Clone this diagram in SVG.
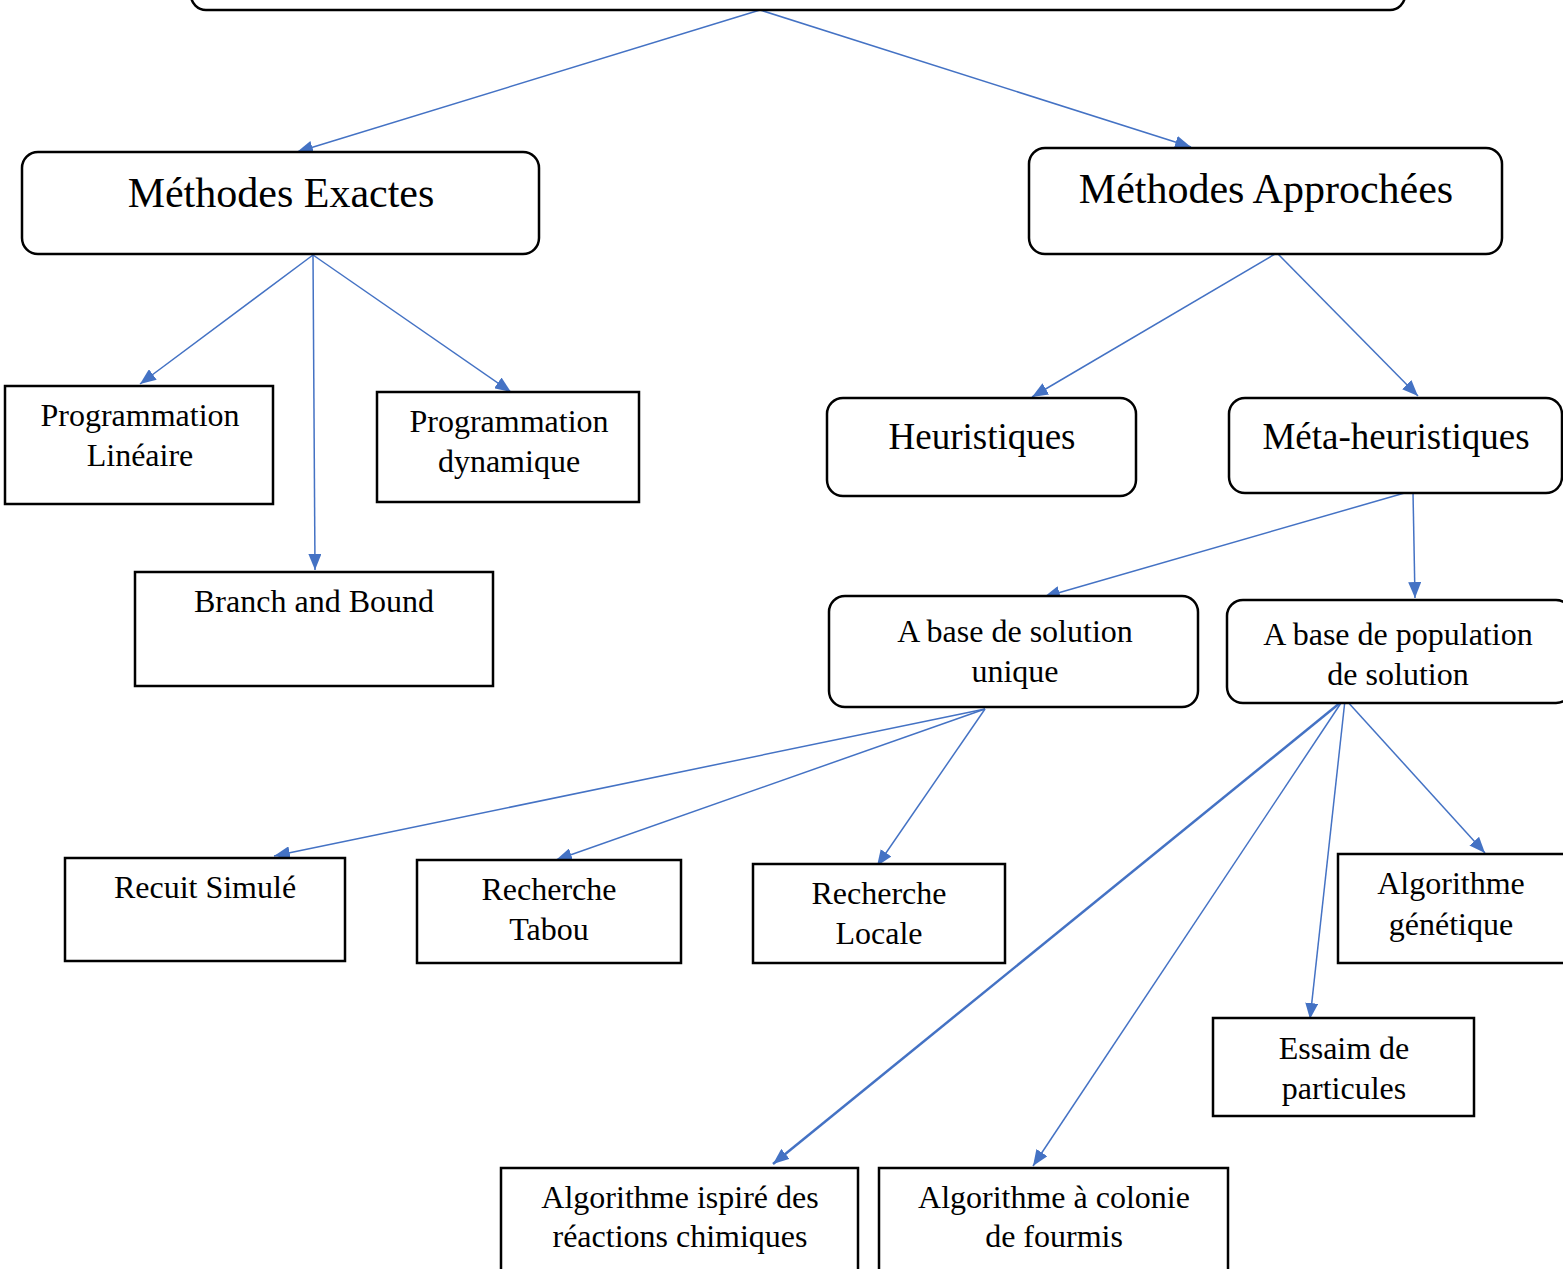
<svg xmlns="http://www.w3.org/2000/svg" width="1563" height="1269" viewBox="0 0 1563 1269">
<defs>
<style>
.box{fill:#fff;stroke:#000;stroke-width:2.5}
.t{font-family:"Liberation Serif","Times New Roman",serif;fill:#000;text-anchor:middle}
.s32{font-size:32px}
.s37{font-size:37px}
.s42{font-size:42px}
.c{stroke:#4472C4;stroke-width:1.5;fill:none;marker-end:url(#ah)}
</style>
<marker id="ah" viewBox="0 0 16 13" refX="16" refY="6.5" markerUnits="userSpaceOnUse" markerWidth="16" markerHeight="13" orient="auto">
<path d="M0,0 L16,6.5 L0,13 Z" fill="#4472C4"/>
</marker>
</defs>
<rect width="1563" height="1269" fill="#fff"/>
<g id="connectors">
<line class="c" x1="760" y1="10" x2="297" y2="152"/>
<line class="c" x1="760" y1="10" x2="1191" y2="147"/>
<line class="c" x1="313" y1="255" x2="140" y2="384"/>
<line class="c" x1="313" y1="255" x2="315" y2="570"/>
<line class="c" x1="313" y1="255" x2="511" y2="392"/>
<line class="c" x1="1275" y1="254" x2="1032" y2="397"/>
<line class="c" x1="1278" y1="254" x2="1418" y2="396"/>
<line class="c" x1="1408" y1="492" x2="1044" y2="597"/>
<line class="c" x1="1413" y1="492" x2="1415" y2="598"/>
<line class="c" x1="985" y1="709" x2="274" y2="856"/>
<line class="c" x1="985" y1="709" x2="556" y2="860"/>
<line class="c" x1="985" y1="709" x2="877" y2="866"/>
<line class="c" x1="1346" y1="698" x2="773" y2="1164" style="stroke-width:2.5"/>
<line class="c" x1="1343" y1="700" x2="1033" y2="1166"/>
<line class="c" x1="1345" y1="700" x2="1310" y2="1019"/>
<line class="c" x1="1346" y1="700" x2="1485" y2="853"/>
</g>
<g id="root"><rect class="box" x="191" y="-40" width="1214" height="50" rx="15"/></g>
<g id="exactes"><rect class="box" x="22" y="152" width="517" height="102" rx="16"/><text class="t s42" x="281" y="207">Méthodes Exactes</text></g>
<g id="approchees"><rect class="box" x="1029" y="148" width="473" height="106" rx="16"/><text class="t s42" x="1266" y="203">Méthodes Approchées</text></g>
<g id="prog-lineaire"><rect class="box" x="5" y="386" width="268" height="118"/><text class="t s32" x="140" y="426">Programmation</text><text class="t s32" x="140" y="466">Linéaire</text></g>
<g id="prog-dynamique"><rect class="box" x="377" y="392" width="262" height="110"/><text class="t s32" x="509" y="432">Programmation</text><text class="t s32" x="509" y="472">dynamique</text></g>
<g id="branch-bound"><rect class="box" x="135" y="572" width="358" height="114"/><text class="t s32" x="314" y="612">Branch and Bound</text></g>
<g id="heuristiques"><rect class="box" x="827" y="398" width="309" height="98" rx="16"/><text class="t s37" x="982" y="449">Heuristiques</text></g>
<g id="meta"><rect class="box" x="1229" y="398" width="333" height="95" rx="16"/><text class="t s37" x="1396" y="449">Méta-heuristiques</text></g>
<g id="solution-unique"><rect class="box" x="829" y="596" width="369" height="111" rx="16"/><text class="t s32" x="1015" y="642">A base de solution</text><text class="t s32" x="1015" y="682">unique</text></g>
<g id="population"><rect class="box" x="1227" y="600" width="345" height="103" rx="16"/><text class="t s32" x="1398" y="645">A base de population</text><text class="t s32" x="1398" y="685">de solution</text></g>
<g id="recuit"><rect class="box" x="65" y="858" width="280" height="103"/><text class="t s32" x="205" y="898">Recuit Simulé</text></g>
<g id="tabou"><rect class="box" x="417" y="860" width="264" height="103"/><text class="t s32" x="549" y="900">Recherche</text><text class="t s32" x="549" y="940">Tabou</text></g>
<g id="locale"><rect class="box" x="753" y="864" width="252" height="99"/><text class="t s32" x="879" y="904">Recherche</text><text class="t s32" x="879" y="944">Locale</text></g>
<g id="genetique"><rect class="box" x="1338" y="854" width="230" height="109"/><text class="t s32" x="1451" y="894">Algorithme</text><text class="t s32" x="1451" y="935">génétique</text></g>
<g id="essaim"><rect class="box" x="1213" y="1018" width="261" height="98"/><text class="t s32" x="1344" y="1059">Essaim de</text><text class="t s32" x="1344" y="1099">particules</text></g>
<g id="chimiques"><rect class="box" x="501" y="1168" width="357" height="120"/><text class="t s32" x="680" y="1208">Algorithme ispiré des</text><text class="t s32" x="680" y="1247">réactions chimiques</text></g>
<g id="fourmis"><rect class="box" x="879" y="1168" width="349" height="120"/><text class="t s32" x="1054" y="1208">Algorithme à colonie</text><text class="t s32" x="1054" y="1247">de fourmis</text></g>
</svg>
